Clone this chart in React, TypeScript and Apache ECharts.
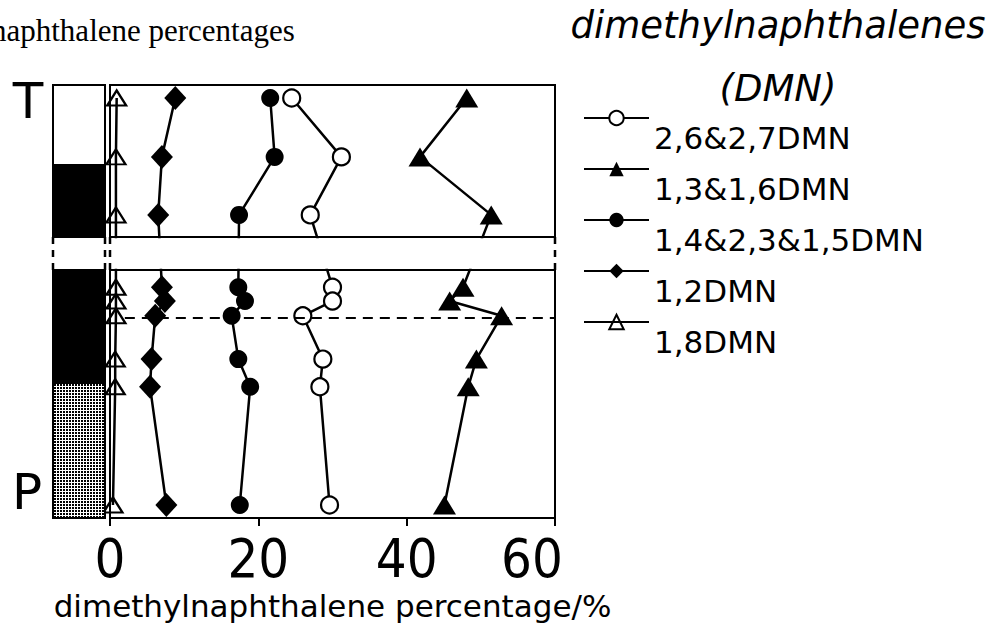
import React, { useEffect, useRef } from 'react';
import * as echarts from 'echarts';

// ---- data ----
const seriesNames = ['2,6&2,7DMN', '1,3&1,6DMN', '1,4&2,3&1,5DMN', '1,2DMN', '1,8DMN'];
// sample positions as relative depth in the section (0 = top, 100 = base)
const sampleDepths = [3.0, 16.6, 30.0, 46.7, 49.9, 53.3, 63.3, 69.7, 97.0];
const dmn2627 = [24.5, 31.2, 27.0, 30.0, 30.0, 26.0, 28.7, 28.3, 29.6];
const dmn1316 = [48.1, 41.8, 51.4, 47.6, 45.8, 52.8, 49.4, 48.3, 45.1];
const dmn142315 = [21.6, 22.2, 17.4, 17.3, 18.2, 16.4, 17.3, 18.9, 17.5];
const dmn12 = [8.8, 7.0, 6.5, 7.0, 7.4, 6.1, 5.6, 5.4, 7.6];
const dmn18 = [0.9, 0.8, 0.8, 0.8, 0.8, 0.8, 0.7, 0.7, 0.4];
const xTickValues = [0, 20, 40, 60];
const breakTop = 35.1;
const breakBottom = 42.7;
const boundaryDepth = 53.8;
const lithTops = [0, 18.5, 42.7, 68.8];
const lithBases = [18.5, 35.1, 68.8, 100];
const lithKinds = ['white', 'black', 'black', 'dotted'];
const sectionLabels = ['T', 'P'];

const SANS = '"DejaVu Sans", sans-serif';
const NARROW = '"Liberation Sans Narrow", "DejaVu Sans Condensed", "Liberation Sans", sans-serif';

function makePattern(): string {
  const c = document.createElement('canvas');
  c.width = 3;
  c.height = 3;
  const ctx = c.getContext('2d')!;
  ctx.fillStyle = '#fff';
  ctx.fillRect(0, 0, 3, 3);
  ctx.fillStyle = '#000';
  ctx.fillRect(0, 0, 2, 2);
  return c.toDataURL();
}

function mkSeries(name: string, values: number[], symbol: string, size: any, fill: string, extra: any = {}) {
  const open = fill !== '#000';
  return {
    type: 'line',
    name,
    data: values.map((v, i) => [v, sampleDepths[i]]),
    symbol,
    symbolSize: size,
    showSymbol: true,
    clip: false,
    lineStyle: { color: '#000', width: 2.5 },
    itemStyle: { color: fill, borderColor: '#000', borderWidth: open ? 2.2 : 0 },
    emphasis: { disabled: true },
    ...extra,
  };
}

export default function App() {
  const ref = useRef<HTMLDivElement>(null);
  useEffect(() => {
    if (!ref.current) return;
    const chart = echarts.init(ref.current, null, { renderer: 'svg' });
    const option: any = {
      animation: false,
      backgroundColor: '#fff',
      grid: {
        left: 110, top: 85, width: 445, height: 433,
        show: true, borderColor: '#000', borderWidth: 2, backgroundColor: 'transparent',
      },
      xAxis: {
        type: 'value', min: 0, max: 60, interval: 20,
        axisLine: { show: true, onZero: false, lineStyle: { color: '#000', width: 2 } },
        axisTick: { show: true, inside: false, length: 8, lineStyle: { color: '#000', width: 2 } },
        splitLine: { show: false },
        axisLabel: {
          margin: 13, color: '#000', fontFamily: NARROW, fontSize: 54,
          formatter: (v: number) => (v === xTickValues[3] ? `{r|${v}}` : `{n|${v}}`),
          rich: {
            n: { fontFamily: NARROW, fontSize: 54, color: '#000' },
            r: { fontFamily: NARROW, fontSize: 54, color: '#000', padding: [0, 46, 0, 0] },
          },
        },
        name: 'dimethylnaphthalene percentage/%',
        nameLocation: 'middle', nameGap: 72,
        nameTextStyle: { fontFamily: SANS, fontSize: 31, color: '#000' },
      },
      yAxis: { type: 'value', inverse: true, min: 0, max: 100, show: false },
      legend: {
        orient: 'vertical', left: 583, top: 78, padding: 0,
        itemWidth: 65, itemHeight: 18, itemGap: -29,
        selectedMode: false,
        data: seriesNames,
        formatter: (n: string) => '\n' + n,
        textStyle: { fontFamily: SANS, fontSize: 31, color: '#000', lineHeight: 40 },
      },
      series: [
        mkSeries(seriesNames[0], dmn2627, 'circle', 17, '#fff'),
        mkSeries(seriesNames[1], dmn1316, 'triangle', [23, 19], '#000'),
        mkSeries(seriesNames[2], dmn142315, 'circle', 18, '#000'),
        mkSeries(seriesNames[3], dmn12, 'diamond', [22, 24], '#000'),
        mkSeries(seriesNames[4], dmn18, 'triangle', [19, 15], 'rgba(255,255,255,0)', {
          markLine: {
            silent: true, symbol: 'none', label: { show: false },
            lineStyle: { color: '#000', width: 2, type: [10, 7] },
            data: [[{ coord: [2, boundaryDepth] }, { coord: [60, boundaryDepth] }]],
          },
        }),
      ],
    };
    chart.setOption(option);

    const px = (x: number, d: number) => chart.convertToPixel({ gridIndex: 0 }, [x, d]) as number[];
    const [gl, yTop] = px(0, 0);
    const [gr, yBot] = px(60, 100);
    const yB1 = px(0, breakTop)[1];
    const yB2 = px(0, breakBottom)[1];
    const colL = gl - 57;
    const colR = gl - 5;
    const pattern = { image: makePattern(), repeat: 'repeat', imageWidth: 3, imageHeight: 3 };
    const fills: Record<string, any> = { white: '#fff', black: '#000', dotted: pattern };

    const g: any[] = [];
    lithTops.forEach((t, i) => {
      const y1 = px(0, t)[1];
      const y2 = px(0, lithBases[i])[1];
      g.push({
        type: 'rect', z: 100,
        shape: { x: colL, y: y1, width: colR - colL, height: y2 - y1 },
        style: { fill: fills[lithKinds[i]], stroke: '#000', lineWidth: 2 },
      });
    });
    // break mask
    g.push({
      type: 'rect', z: 101,
      shape: { x: colL - 4, y: yB1 + 1.2, width: gr - colL + 10, height: yB2 - yB1 - 2.4 },
      style: { fill: '#fff' },
    });
    [yB1, yB2].forEach((y) => {
      g.push({ type: 'line', z: 102, shape: { x1: gl, y1: y, x2: gr, y2: y }, style: { stroke: '#000', lineWidth: 2 } });
    });
    [colL, colR, gl, gr].forEach((x) => {
      g.push({
        type: 'line', z: 102,
        shape: { x1: x, y1: yB1, x2: x, y2: yB2 },
        style: { stroke: '#000', lineWidth: 2.5, lineDash: [7, 6] },
      });
    });
    // section labels
    g.push({
      type: 'text', z: 103, x: 28, y: yTop + 16,
      style: { text: sectionLabels[0], fontFamily: SANS, fontSize: 50, fill: '#000', textAlign: 'center', textVerticalAlign: 'middle' },
    });
    g.push({
      type: 'text', z: 103, x: 27, y: yBot - 26,
      style: { text: sectionLabels[1], fontFamily: SANS, fontSize: 50, fill: '#000', textAlign: 'center', textVerticalAlign: 'middle' },
    });
    // titles
    g.push({
      type: 'text', z: 103, x: -9, y: 30,
      style: { text: 'naphthalene percentages', fontFamily: '"Liberation Serif", serif', fontSize: 31, fill: '#000', textAlign: 'left', textVerticalAlign: 'middle' },
    });
    g.push({
      type: 'text', z: 103, x: 778, y: 25,
      style: { text: 'dimethylnaphthalenes', fontFamily: SANS, fontStyle: 'italic', fontSize: 37, fill: '#000', textAlign: 'center', textVerticalAlign: 'middle' },
    });
    g.push({
      type: 'text', z: 103, x: 778, y: 88,
      style: { text: '(DMN)', fontFamily: SANS, fontStyle: 'italic', fontSize: 37, fill: '#000', textAlign: 'center', textVerticalAlign: 'middle' },
    });
    chart.setOption({ graphic: { elements: g } });

    return () => chart.dispose();
  }, []);
  return (
    <div
      ref={ref}
      style={{ position: 'fixed', left: 0, top: 0, width: 998, height: 635, background: '#fff' }}
    />
  );
}
